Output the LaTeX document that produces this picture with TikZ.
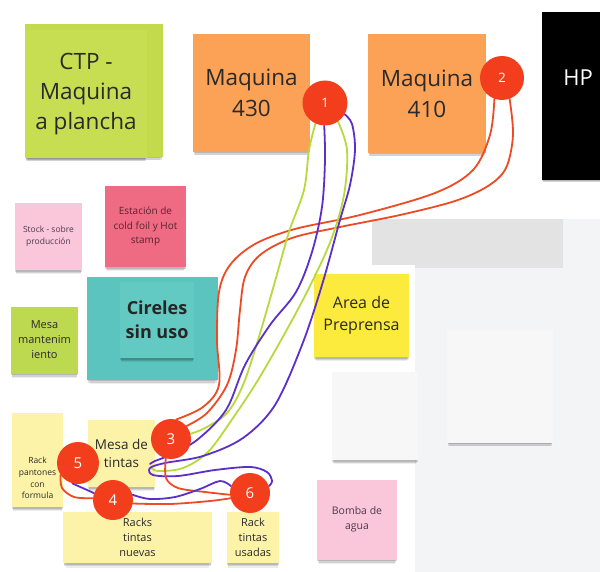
\documentclass[tikz,border=0pt]{standalone}
\usepackage{fontspec}
\setmainfont{Open Sans}
\usetikzlibrary{shadows}

\definecolor{limenote}{HTML}{C8DE52}
\definecolor{limeback}{HTML}{C3DA4C}
\definecolor{orangenote}{HTML}{FBA257}
\definecolor{lightpink}{HTML}{F9C6DA}
\definecolor{rosenote}{HTML}{EE6B83}
\definecolor{tealnote}{HTML}{5BC4BF}
\definecolor{tealfront}{HTML}{62C9C3}
\definecolor{greennote}{HTML}{BCD94F}
\definecolor{yellownote}{HTML}{FCEA3C}
\definecolor{creamnote}{HTML}{FCF3A9}
\definecolor{badgered}{HTML}{F23E1C}
\definecolor{redline}{HTML}{EE4A24}
\definecolor{greenline}{HTML}{B6DA3E}
\definecolor{purpleline}{HTML}{5B2FC9}
\definecolor{ink}{HTML}{2A2A2A}
\definecolor{maroonink}{HTML}{5A2230}
\definecolor{plumink}{HTML}{4E3A4C}
\definecolor{boardgray}{HTML}{F3F4F6}
\definecolor{bargray}{HTML}{E3E3E4}
\definecolor{panelgray}{HTML}{F7F7F8}

\pgfdeclarelayer{board}
\pgfdeclarelayer{routes}
\pgfsetlayers{board,routes,main}

\begin{document}
\begin{tikzpicture}[x=1pt, y=-1pt,
  softshadow/.style={
    drop shadow={shadow xshift=0pt, shadow yshift=-2pt, opacity=0.13, fill=black, shadow scale=0.99},
    drop shadow={shadow xshift=0pt, shadow yshift=-4pt, opacity=0.11, fill=black, shadow scale=0.98},
    drop shadow={shadow xshift=0pt, shadow yshift=-6pt, opacity=0.07, fill=black, shadow scale=0.96}},
  note/.style={rectangle, inner sep=0pt, align=center, text=ink, softshadow},
  flat/.style={rectangle, inner sep=0pt},
  badge/.style={circle, fill=badgered, inner sep=0pt, text=white},
  link/.style={line width=1.8pt, line cap=round, line join=round},
  redlink/.style={link, draw=redline},
  greenlink/.style={link, draw=greenline},
  purplelink/.style={link, draw=purpleline}
]
\useasboundingbox (0,0) rectangle (600,572);

\begin{pgfonlayer}{board}
\clip (0,0) rectangle (600,572);
\fill[white] (0,0) rectangle (600,572);

% board areas on the right
\fill[boardgray] (415,219) rectangle (600,572);
\fill[bargray] (372,219) rectangle (563,268);
\node[flat, fill=panelgray, minimum width=86pt, minimum height=88pt, softshadow] (panelA) at (375,416) {};
\node[flat, fill=panelgray, minimum width=106pt, minimum height=113pt, softshadow] (panelB) at (500,386.5) {};
\node[flat, fill=white, minimum width=115pt, minimum height=107pt] (prepframe) at (357.5,318.5) {};

% sticky notes
\node[note, fill=limeback, minimum width=138pt, minimum height=133pt] (ctpback) at (94,90.5) {};
\node[note, fill=limenote, minimum width=122pt, minimum height=128pt,
  font=\fontsize{22.5}{30}\selectfont] (ctp) at (86,94) {CTP -\\Maquina\\a plancha};

\node[note, fill=orangenote, minimum width=117pt, minimum height=118pt,
  font=\fontsize{22.5}{31}\selectfont] (m430) at (251.5,93) {Maquina\\430};
\node[note, fill=orangenote, minimum width=118pt, minimum height=119pt,
  font=\fontsize{22.5}{31}\selectfont] (m410) at (427,93.5) {Maquina\\410};

\node[note, fill=black, minimum width=72pt, minimum height=168pt] (hp) at (578,96) {};
\node[text=white, font=\fontsize{22}{26}\selectfont, inner sep=0pt] (hplabel) at (578,78) {HP};

\node[note, fill=lightpink, minimum width=67pt, minimum height=67pt, text=plumink,
  font=\fontsize{8.5}{11.5}\selectfont] (stock) at (48.5,236.5) {Stock - sobre\\producción};
\node[note, fill=rosenote, minimum width=81pt, minimum height=81pt, text=maroonink,
  font=\fontsize{10}{14.5}\selectfont] (estacion) at (145.5,226.5) {Estación de\\cold foil y Hot\\stamp};

\node[note, fill=tealnote, minimum width=131pt, minimum height=103pt] (cirback) at (152.5,328.5) {};
\node[note, fill=tealfront, minimum width=74pt, minimum height=76pt,
  font=\fontsize{18}{24}\selectfont\bfseries, text=black!85] (cireles) at (157,320) {Cireles\\sin uso};

\node[note, fill=greennote, minimum width=67pt, minimum height=67pt,
  font=\fontsize{11}{15}\selectfont] (mant) at (44.5,340) {Mesa\\mantenim\\iento};

\node[note, fill=yellownote, minimum width=95pt, minimum height=83pt,
  font=\fontsize{16}{22}\selectfont] (prep) at (361.5,315.5) {Area de\\Preprensa};

\node[note, fill=creamnote, minimum width=51pt, minimum height=94pt] (pantones) at (37.5,460) {};
\node[text=ink, align=center, inner sep=0pt, font=\fontsize{8.5}{11.8}\selectfont] (pantonestext) at (37.5,478) {Rack\\pantones\\con\\formula};

\node[note, fill=creamnote, minimum width=67pt, minimum height=67pt,
  font=\fontsize{13.5}{18}\selectfont] (mesa) at (121.5,453.5) {Mesa de\\tintas};

\node[note, fill=creamnote, minimum width=149pt, minimum height=51pt,
  font=\fontsize{11}{15}\selectfont] (nuevas) at (137.5,537.5) {Racks\\tintas\\nuevas};
\node[note, fill=creamnote, minimum width=52pt, minimum height=51pt,
  font=\fontsize{11}{15}\selectfont] (usadas) at (253,537.5) {Rack\\tintas\\usadas};

\node[note, fill=lightpink, minimum width=80pt, minimum height=80pt, text=plumink,
  font=\fontsize{10.5}{15}\selectfont] (bomba) at (357,519.5) {Bomba de\\agua};
\end{pgfonlayer}

% numbered markers
\node[badge, minimum size=45pt, font=\fontsize{13}{13}\selectfont] (c1) at (325,103) {1};
\node[badge, minimum size=44pt, font=\fontsize{13}{13}\selectfont] (c2) at (502,78) {2};
\node[badge, minimum size=40pt, font=\fontsize{15}{15}\selectfont] (c3) at (171,439) {3};
\node[badge, minimum size=40pt, font=\fontsize{15}{15}\selectfont] (c4) at (113,500) {4};
\node[badge, minimum size=42pt, font=\fontsize{15}{15}\selectfont] (c5) at (78,463) {5};
\node[badge, minimum size=40pt, font=\fontsize{15}{15}\selectfont] (c6) at (250,493) {6};

\coordinate (tipL) at (150,464);
\coordinate (tipG) at (151,467);

% routes between the markers, kept under them
\begin{pgfonlayer}{routes}
\draw[redlink] plot[smooth, tension=0.55] coordinates {(c2.250) (490,135) (473,170) (435,193) (360,215) (295,229) (255,244) (230,265) (219,292) (217,340) (219,385) (203,407) (c3.75)};
\draw[redlink] plot[smooth, tension=0.55] coordinates {(c2.290) (513,135) (506,168) (488,186) (455,201) (400,215) (340,227) (292,238) (260,255) (245,277) (240,310) (236,350) (227,385) (207,413) (c3.40)};

\draw[greenlink] plot[smooth, tension=0.55] coordinates {(c1.245) (309,150) (304,190) (289,232) (274,285) (258,340) (243,385) (227,413) (205,428) (c3.15)};
\draw[greenlink] plot[smooth, tension=0.55] coordinates {(c1.305) (347,150) (344,195) (331,240) (309,288) (285,333) (258,380) (233,418) (208,452) (183,468) (158,471) (tipG)};

\draw[purplelink] plot[smooth, tension=0.55] coordinates {(c1.268) (325,160) (322,207) (312,252) (296,292) (270,325) (245,365) (226,410) (197,440) (170,455) (155,461) (tipL)};
\draw[purplelink] plot[smooth, tension=0.55] coordinates {(c1.330) (352,124) (355,150) (350,185) (340,220) (322,285) (302,345) (275,405) (243,438) (203,456) (165,463) (150,468) (153,475) (178,476) (215,470) (250,467) (267,472) (272,481) (c6.20)};

\draw[redlink] plot[smooth, tension=0.55] coordinates {(c3.255) (166,478) (178,488) (205,492) (c6.185)};
\draw[redlink] plot[smooth, tension=0.55] coordinates {(c5.215) (62,488) (74,497) (c4.175)};
\draw[redlink] plot[smooth, tension=0.55] coordinates {(c4.350) (170,504) (210,501) (c6.195)};
\draw[purplelink] (c5.255) -- (c4.160);
\draw[purplelink] plot[smooth, tension=0.55] coordinates {(c4.15) (150,499) (175,497) (200,489) (220,481) (c6.160)};
\end{pgfonlayer}
\end{tikzpicture}
\end{document}
